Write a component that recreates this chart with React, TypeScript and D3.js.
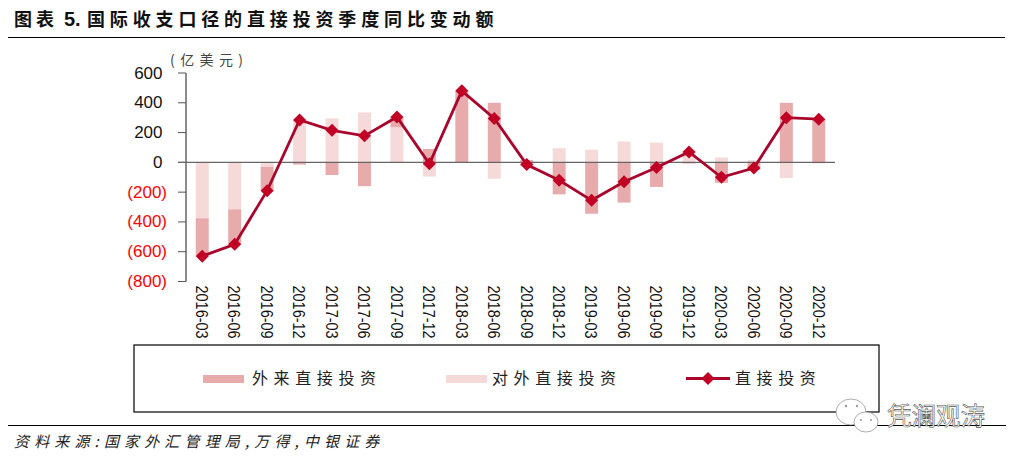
import React from "react";
import * as d3 from "d3";

const categories = ["2016-03","2016-06","2016-09","2016-12","2017-03","2017-06","2017-09","2017-12","2018-03","2018-06","2018-09","2018-12","2019-03","2019-06","2019-09","2019-12","2020-03","2020-06","2020-09","2020-12"];
const inward = [-255,-235,-160,-15,-85,-160,70,90,480,400,15,-215,-345,-270,-165,-8,-137,-50,400,290];
const outward = [-375,-315,-30,290,295,335,235,-95,0,-110,-30,95,85,140,133,80,33,15,-105,-8];
const net = [-630,-550,-190,285,215,178,305,-10,480,295,-15,-120,-255,-130,-35,70,-100,-38,300,290];
const yTicks = [600,400,200,0,-200,-400,-600,-800];
const titleHead = "图表";
const titleNum = "5.";
const titleRest = "国际收支口径的直接投资季度同比变动额";
const unit = "(亿美元)";
const source = "资料来源:国家外汇管理局,万得,中银证券";
const legendNames = ["外来直接投资","对外直接投资","直接投资"];
const watermark = "凭澜观涛";

const C_IN = "#E8ABAB";
const C_OUT = "#F6D9D9";
const C_LINE = "#A8062C";
const C_MARK = "#C00024";
const CJK = "'Noto Sans CJK SC', sans-serif";
const LAT = "'Liberation Sans', Arial, sans-serif";

const x = d3.scaleBand<string>().domain(categories).range([186, 835]).paddingInner(0.6).paddingOuter(0.3);
const y = d3.scaleLinear().domain([-800, 600]).range([281.5, 73]);

const rows = categories.map((c, i) => ({ c, outward: outward[i], inward: inward[i] }));
const stacked = d3.stack<any>().keys(["outward", "inward"]).offset(d3.stackOffsetDiverging)(rows);
const line = d3.line<number>().x((_, i) => x(categories[i])! + x.bandwidth() / 2).y(d => y(d));
const diamond = (cx: number, cy: number, r = 6.5) => `M${cx},${cy - r}L${cx + r},${cy}L${cx},${cy + r}L${cx - r},${cy}Z`;
const fmt = (v: number) => (v < 0 ? `(${-v})` : `${v}`);

export default function App() {
  return (
    <svg width={1016} height={461} style={{ position: "absolute", left: 0, top: 0, background: "#fff" }}>
      <text x={14} y={26} fontFamily={CJK} fontWeight={700} fontSize={18} letterSpacing={4} fill="#111">{titleHead}</text>
      <text x={64} y={26} fontFamily={LAT} fontWeight={700} fontSize={20} fill="#111">{titleNum}</text>
      <text x={87} y={26} fontFamily={CJK} fontWeight={700} fontSize={18} letterSpacing={4.85} fill="#111">{titleRest}</text>
      <line x1={8} x2={1005} y1={37.5} y2={37.5} stroke="#000" strokeWidth={1.2} />

      <text x={170} y={64.5} fontFamily={CJK} fontSize={14} letterSpacing={5.4} fill="#444">{unit}</text>

      {stacked.map((s, k) => s.map((d: any, i: number) => (
        <rect key={`${k}-${i}`} x={x(categories[i])!} width={x.bandwidth()}
          y={y(Math.max(d[0], d[1]))} height={Math.abs(y(d[0]) - y(d[1]))}
          fill={k === 0 ? C_OUT : C_IN} />
      )))}

      <line x1={186} x2={186} y1={73} y2={281.5} stroke="#666" strokeWidth={1.5} />
      {yTicks.map(t => (
        <g key={t}>
          <line x1={178} x2={186} y1={y(t)} y2={y(t)} stroke="#555" strokeWidth={1} />
          <text x={t < 0 ? 167 : 162.5} y={y(t) + 5.5} textAnchor="end" fontFamily={LAT} fontSize={17} fill={t < 0 ? "#FF0000" : "#111"}>{fmt(t)}</text>
        </g>
      ))}
      <line x1={178} x2={835} y1={y(0)} y2={y(0)} stroke="#666" strokeWidth={1.2} />

      <path d={line(net)!} fill="none" stroke={C_LINE} strokeWidth={2.8} />
      {net.map((v, i) => (
        <path key={i} d={diamond(x(categories[i])! + x.bandwidth() / 2, y(v))} fill={C_MARK} />
      ))}

      {categories.map(c => {
        const cx = x(c)! + x.bandwidth() / 2;
        return (
          <text key={c} transform={`translate(${cx - 6.2},285.5) rotate(90) scale(1,1.2)`} fontFamily={LAT} fontSize={14.5} fill="#111">{c}</text>
        );
      })}

      <rect x={134} y={345} width={745} height={67} fill="none" stroke="#000" strokeWidth={1.2} />
      <rect x={203} y={375} width={41} height={8} fill={C_IN} />
      <text x={252} y={384} fontFamily={CJK} fontSize={16} letterSpacing={5.6} fill="#222">{legendNames[0]}</text>
      <rect x={446} y={375} width={41} height={8} fill={C_OUT} />
      <text x={492} y={384} fontFamily={CJK} fontSize={16} letterSpacing={5.6} fill="#222">{legendNames[1]}</text>
      <line x1={686} x2={730} y1={378.5} y2={378.5} stroke={C_LINE} strokeWidth={2.8} />
      <path d={diamond(708, 378.5)} fill={C_MARK} />
      <text x={735} y={384} fontFamily={CJK} fontSize={16} letterSpacing={5.6} fill="#222">{legendNames[2]}</text>

      <line x1={8} x2={1006} y1={425.5} y2={425.5} stroke="#000" strokeWidth={1.2} />
      <text x={14} y={447} fontFamily={CJK} fontStyle="italic" fontSize={15} letterSpacing={5.15} fill="#222">{source}</text>

      <g fill="#fff" stroke="#888" strokeWidth={0.7}>
        <ellipse cx={851} cy={412} rx={15} ry={13} />
        <ellipse cx={866} cy={422} rx={12} ry={10} />
      </g>
      <g fill="#999">
        <circle cx={846} cy={406} r={1.2} /><circle cx={857} cy={406} r={1.2} />
        <circle cx={861} cy={420} r={1} /><circle cx={871} cy={420} r={1} />
      </g>
      <text x={887} y={425} fontFamily={CJK} fontSize={24.5} fill="#fff" stroke="#555" strokeWidth={0.6}>{watermark}</text>
    </svg>
  );
}
